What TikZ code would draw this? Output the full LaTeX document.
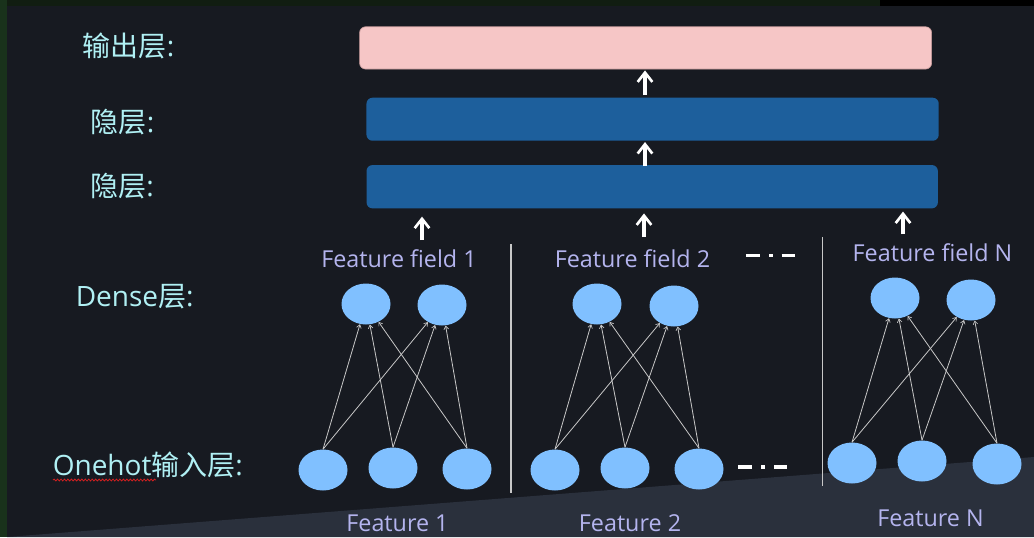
\documentclass[tikz,border=0pt]{standalone}
\usepackage{fontspec}
\setmainfont{Open Sans}
\newfontfamily\cjk{Noto Sans CJK SC}
\usetikzlibrary{arrows.meta,shapes.geometric,decorations.pathmorphing}
\definecolor{bg}{HTML}{171A21}
\definecolor{lowbg}{HTML}{2A303C}
\definecolor{greenedge}{HTML}{19321B}
\definecolor{topedge}{HTML}{111D11}
\definecolor{pinkbox}{HTML}{F6C6C6}
\definecolor{pinkedge}{HTML}{C89C9C}
\definecolor{bluebox}{HTML}{1D5F9C}
\definecolor{nodeblue}{HTML}{80C0FF}
\definecolor{cyantext}{HTML}{B0F0F4}
\definecolor{lavtext}{HTML}{B4B4EE}
\definecolor{thin}{HTML}{C8C8C8}
\definecolor{spellred}{HTML}{D02020}
\tikzset{
  layerbox/.style={rectangle, rounded corners=4.5pt, inner sep=0pt},
  unit/.style={ellipse, fill=nodeblue, minimum width=36.75pt, minimum height=30.75pt, inner sep=0pt},
  leftlabel/.style={anchor=west, inner sep=0pt, text=cyantext, font=\fontsize{21pt}{24pt}\selectfont},
  featlabel/.style={anchor=base, inner sep=0pt, text=lavtext, font=\fontsize{17.5pt}{20pt}\selectfont},
  bigarrow/.style={draw=white, line width=2.3pt, -{Straight Barb[length=7pt,width=11pt,line width=2pt]}},
  thinarrow/.style={draw=thin, line width=0.6pt, -{Straight Barb[length=2.5pt,width=3.5pt,line width=0.5pt]}},
  sepline/.style={draw=thin, line width=1.1pt},
  dashdot/.style={draw=white, line width=2.4pt, dash pattern=on 10.2pt off 7.1pt on 2.6pt off 6.8pt on 10pt off 20pt}
}
\begin{document}
\begin{tikzpicture}[x=0.75pt,y=-0.75pt]
\useasboundingbox (0,0) rectangle (1034,537);
% background
\fill[bg] (0,0) rectangle (1034,537);
\fill[lowbg] (7,537) -- (1034,457) -- (1034,537) -- cycle;
\fill[topedge] (0,0) rectangle (1034,6);
\fill[black] (880,0) rectangle (1034,6);
\fill[greenedge] (0,0) rectangle (7,537);

% layer boxes
\node[layerbox, fill=pinkbox, draw=pinkedge, line width=0.5pt, minimum width=429pt, minimum height=31.7pt] (out) at (645.6,47.9) {};
\node[layerbox, fill=bluebox, minimum width=429.2pt, minimum height=32.25pt] (h1) at (652.6,119.2) {};
\node[layerbox, fill=bluebox, minimum width=428.5pt, minimum height=32.5pt] (h2) at (652.2,186.7) {};

% left labels
\node[leftlabel] (lout) at (82.5,46) {\cjk 输出层\rmfamily:};
\node[leftlabel] (lh1) at (90.5,122.5) {\cjk 隐层\rmfamily:};
\node[leftlabel] (lh2) at (90,186) {\cjk 隐层\rmfamily:};
\node[leftlabel] (ldense) at (75.5,297) {Dense{\cjk 层}:};
\node[leftlabel] (lone) at (52.5,465) {Onehot{\cjk 输入层}:};
\draw[spellred, line width=0.6pt, decorate, decoration={snake, segment length=2.6pt, amplitude=0.7pt}] (53,480) -- (156,480);

% arrows between layers
\coordinate (a1) at (645,95);
\coordinate (a2) at (645,166);
\coordinate (f1) at (422,240);
\coordinate (f2) at (644,237);
\coordinate (f3) at (903,234);
\draw[bigarrow, shorten >=0.8pt] (a1) -- (a1 |- out.south);
\draw[bigarrow, shorten >=0.8pt] (a2) -- (a2 |- h1.south);
\draw[bigarrow, shorten >=6pt] (f1) -- (f1 |- h2.south);
\draw[bigarrow, shorten >=3.6pt] (f2) -- (f2 |- h2.south);
\draw[bigarrow, shorten >=2.2pt] (f3) -- (f3 |- h2.south);

% separators
\draw[sepline] (511,244) -- (511,493);
\draw[sepline] (822.5,237) -- (822.5,486);

% feature labels
\node[featlabel] (ff1) at (399,267.7) {Feature field 1};
\node[featlabel] (ff2) at (632.5,267.3) {Feature field 2};
\node[featlabel] (ffN) at (932.5,261.7) {Feature field N};
\node[featlabel] (fe1) at (397.5,531.7) {Feature 1};
\node[featlabel] (fe2) at (630,531.7) {Feature 2};
\node[featlabel] (feN) at (930.5,526) {Feature N};

% ellipsis dashes
\draw[dashdot] (746,255.5) -- (795,255.5);
\draw[dashdot] (738.4,467) -- (787.8,467);

% group 1
\node[unit] (d11) at (366,304) {};
\node[unit] (d12) at (442,305) {};
\node[unit] (o11) at (323,470) {};
\node[unit] (o12) at (393,468) {};
\node[unit] (o13) at (467,469) {};
% group 2
\node[unit] (d21) at (597,304) {};
\node[unit] (d22) at (674,306) {};
\node[unit] (o21) at (555,470) {};
\node[unit] (o22) at (625,468) {};
\node[unit] (o23) at (699,469) {};
% group N
\node[unit] (d31) at (895,298) {};
\node[unit] (d32) at (971,300) {};
\node[unit] (o31) at (852,463) {};
\node[unit] (o32) at (922,461) {};
\node[unit] (o33) at (997,464) {};

\foreach \g in {1,2,3}{
  \foreach \o in {1,2,3}{
    \foreach \d in {1,2}{
      \draw[thinarrow] (o\g\o.north) -- (d\g\d);
    }
  }
}
\end{tikzpicture}
\end{document}
